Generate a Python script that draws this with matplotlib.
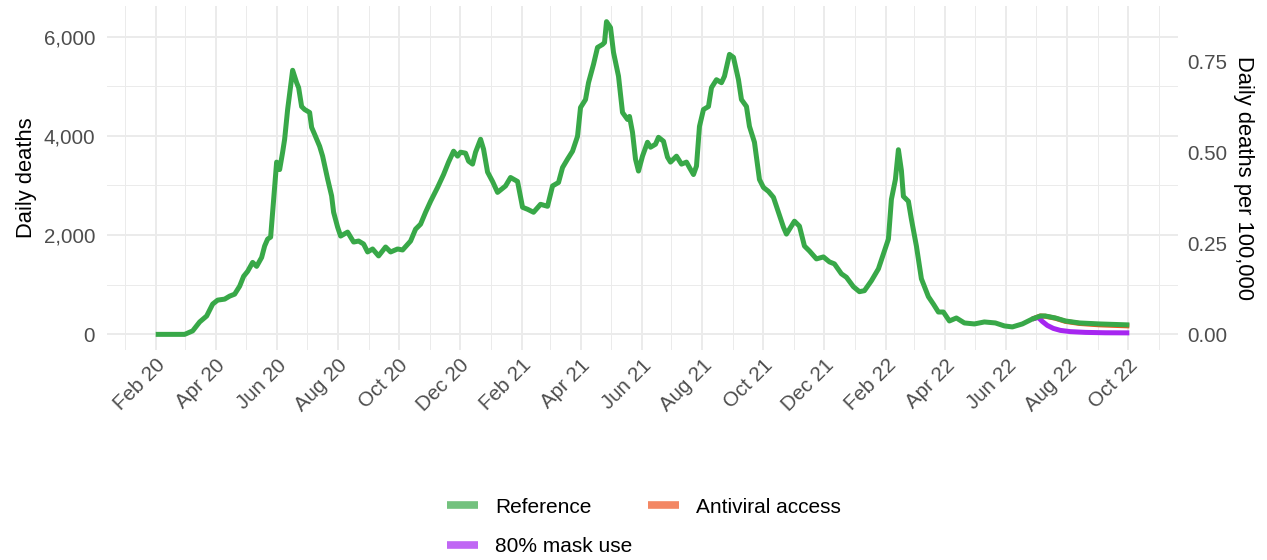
import pandas as pd
import matplotlib
import matplotlib.pyplot as plt
import matplotlib.dates as mdates
from matplotlib.lines import Line2D
from matplotlib.ticker import FuncFormatter, FixedLocator

matplotlib.use('Agg')
plt.rcParams['font.family'] = ['Liberation Sans', 'DejaVu Sans']

START = pd.Timestamp('2020-02-01')
POPULATION = 7.33e8

# reference scenario, days after START and daily deaths
ref_days = [0, 29, 37, 44, 51, 57, 62, 69, 74, 79, 84, 88, 92, 97, 101, 106, 109, 112, 115,
            117, 121, 124, 127, 129, 132, 135, 137, 141, 143, 146, 149, 154, 156, 159, 164,
            167, 172, 176, 178, 182, 185, 192, 198, 203, 208, 212, 217, 223, 230, 235, 242,
            247, 255, 260, 265, 270, 275, 282, 288, 293, 298, 302, 305, 310, 313, 317, 320,
            325, 328, 332, 337, 342, 350, 355, 362, 367, 372, 378, 385, 392, 397, 403, 407,
            412, 417, 422, 425, 430, 433, 438, 442, 447, 449, 451, 455, 458, 463, 467, 472,
            474, 477, 480, 483, 487, 492, 495, 500, 503, 508, 512, 515, 521, 526, 531, 534,
            538, 541, 544, 548, 553, 556, 561, 566, 569, 574, 578, 583, 586, 591, 594, 599,
            604, 608, 613, 618, 623, 628, 631, 636, 639, 644, 649, 654, 661, 668, 674, 679,
            686, 691, 698, 704, 709, 716, 723, 728, 733, 736, 740, 743, 746, 748, 753, 756,
            761, 766, 773, 778, 783, 788, 794, 801, 809, 819, 829, 840, 849, 857, 867, 877,
            885, 890, 900, 910, 924, 944, 974]
ref_deaths = [0, 0, 70, 250, 370, 610, 690, 710, 770, 810, 970, 1170, 1270, 1450, 1370, 1550,
              1780, 1920, 1960, 2460, 3470, 3320, 3670, 3930, 4530, 5000, 5320, 5070, 4970,
              4590, 4530, 4470, 4170, 4030, 3790, 3590, 3130, 2790, 2460, 2160, 1980, 2060,
              1860, 1880, 1820, 1660, 1720, 1580, 1760, 1660, 1720, 1700, 1880, 2120, 2220,
              2460, 2680, 2960, 3220, 3470, 3690, 3590, 3670, 3650, 3490, 3430, 3670, 3930,
              3730, 3270, 3080, 2860, 2990, 3160, 3080, 2560, 2520, 2460, 2620, 2580, 2990,
              3060, 3360, 3530, 3690, 3990, 4570, 4730, 5070, 5440, 5780, 5840, 5880, 6300,
              6180, 5680, 5200, 4470, 4330, 4390, 4070, 3530, 3290, 3590, 3870, 3770, 3830,
              3970, 3890, 3570, 3470, 3590, 3430, 3470, 3360, 3220, 3390, 4190, 4530, 4590,
              4970, 5130, 5070, 5200, 5640, 5580, 5130, 4730, 4590, 4190, 3870, 3120, 2960,
              2880, 2760, 2460, 2160, 2020, 2180, 2280, 2180, 1780, 1680, 1520, 1560, 1460,
              1420, 1220, 1150, 960, 860, 880, 1080, 1320, 1620, 1920, 2720, 3120, 3720,
              3300, 2780, 2680, 2320, 1780, 1120, 760, 610, 450, 450, 270, 330, 230, 210,
              250, 230, 170, 150, 210, 310, 370, 370, 330, 270, 230, 210, 190]

# projection scenarios branch off the reference in mid 2022
mask_days = [877, 883, 887, 892, 898, 905, 915, 930, 950, 974]
mask_deaths = [310, 340, 260, 180, 120, 80, 55, 40, 32, 30]
antiviral_days = [877, 885, 890, 900, 910, 924, 944, 974]
antiviral_deaths = [310, 370, 365, 325, 262, 220, 192, 170]

series = [
    ('Antiviral access', antiviral_days, antiviral_deaths, '#EE5522'),
    ('80% mask use', mask_days, mask_deaths, '#A626F0'),
    ('Reference', ref_days, ref_deaths, '#38A848'),
]


def to_dates(days):
    return START + pd.to_timedelta(days, unit='D')


fig = plt.figure(figsize=(12.67, 5.6), dpi=100)
ax = fig.add_axes([107 / 1267, 1 - 350 / 560, (1178 - 107) / 1267, 344 / 560])

for name, days, deaths, color in series:
    ax.plot(to_dates(days), deaths, color=color, lw=3.6,
            solid_joinstyle='round', solid_capstyle='butt', zorder=3)

span = ref_days[-1] - ref_days[0]
ax.set_xlim(to_dates([-0.05 * span])[0], to_dates([ref_days[-1] + 0.05 * span])[0])
ax.set_ylim(-315, 6615)

ax.xaxis.set_major_locator(mdates.MonthLocator(bymonth=[2, 4, 6, 8, 10, 12]))
ax.xaxis.set_minor_locator(mdates.MonthLocator(bymonth=[1, 3, 5, 7, 9, 11]))
ax.xaxis.set_major_formatter(mdates.DateFormatter('%b %y'))
ax.yaxis.set_major_locator(FixedLocator([0, 2000, 4000, 6000]))
ax.yaxis.set_minor_locator(FixedLocator([1000, 3000, 5000]))
ax.yaxis.set_major_formatter(FuncFormatter(lambda v, p: f'{v:,.0f}'))

ax.grid(which='major', color='#EBEBEB', lw=1.4)
ax.grid(which='minor', color='#EBEBEB', lw=0.7)
ax.set_axisbelow(True)
for s in ax.spines.values():
    s.set_visible(False)

ax.tick_params(which='both', length=0)
ax.tick_params(axis='y', labelsize=14.8, labelcolor='#4D4D4D', pad=8.5)
ax.tick_params(axis='x', labelsize=14.8, labelcolor='#4D4D4D', pad=4)
for lbl in ax.get_xticklabels():
    lbl.set_rotation(45)
    lbl.set_ha('right')
    lbl.set_va('top')
    lbl.set_rotation_mode('anchor')

ax.set_ylabel('Daily deaths', fontsize=15.8, labelpad=5)

sec = ax.secondary_yaxis('right', functions=(lambda d: d * 1e5 / POPULATION,
                                               lambda r: r * POPULATION / 1e5))
sec.yaxis.set_major_locator(FixedLocator([0, 0.25, 0.5, 0.75]))
sec.yaxis.set_major_formatter(FuncFormatter(lambda v, p: f'{v:.2f}'))
sec.tick_params(length=0, labelsize=14.8, labelcolor='#4D4D4D', pad=7)
for s in sec.spines.values():
    s.set_visible(False)
sec.set_ylabel('Daily deaths per 100,000', fontsize=15.8, rotation=270,
               va='bottom', labelpad=4)

# legend keys are drawn lighter than the lines
colors = {name: color for name, _, _, color in series}
order = ['Reference', '80% mask use', 'Antiviral access']
handles = [Line2D([], [], color=colors[n], lw=5.5, alpha=0.7, solid_capstyle='butt')
           for n in order]
fig.legend(handles, order, loc='center', bbox_to_anchor=(0.508, 1 - 527 / 560),
           ncol=2, frameon=False, fontsize=15, handlelength=1.5, handletextpad=0.8,
           columnspacing=0.75, labelspacing=1.0)

fig.savefig('out.png', dpi=100)
plt.close(fig)
